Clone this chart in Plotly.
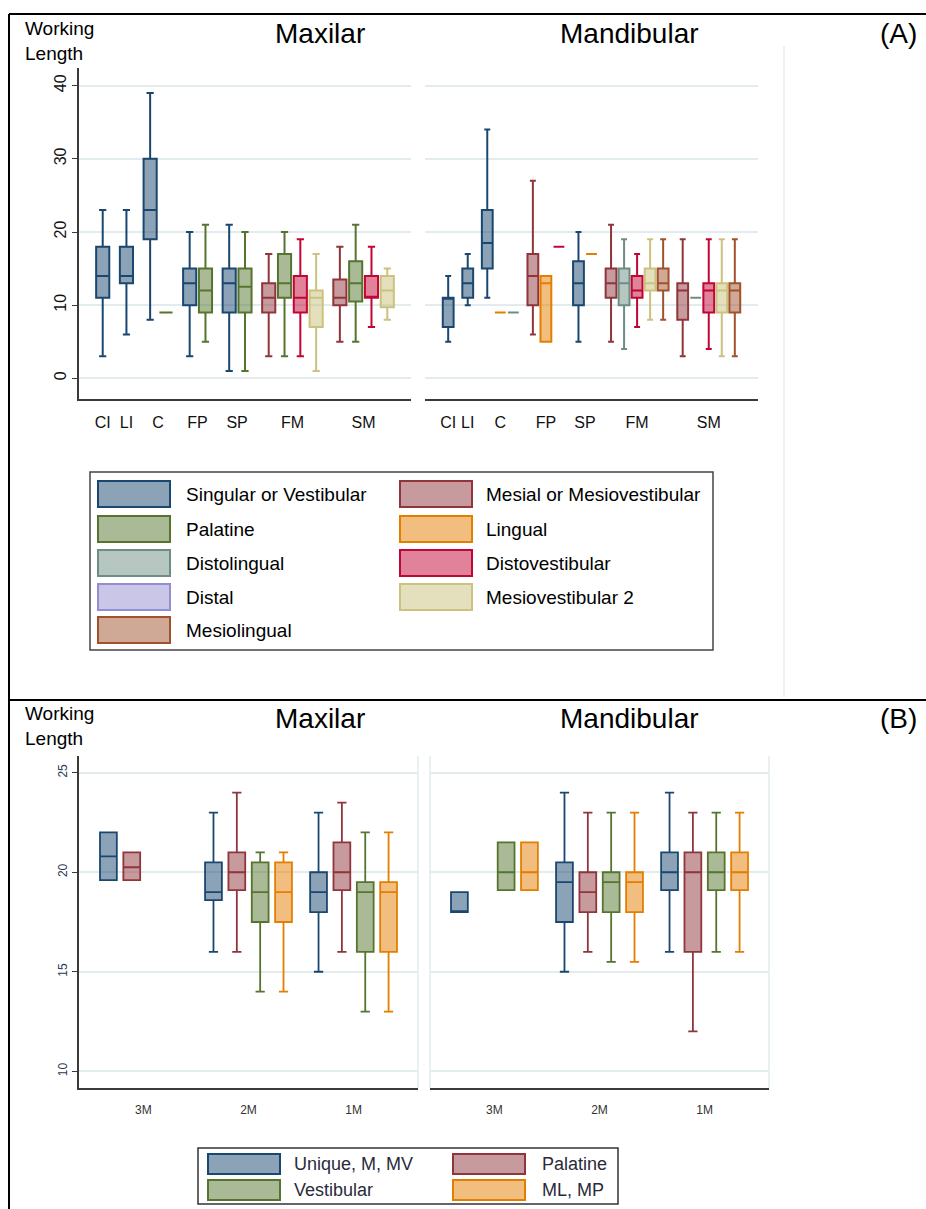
import plotly.graph_objects as go

W, H = 926, 1209
FONT = "Liberation Sans, Arial, sans-serif"

# ---------------- Panel A data (low, q1, median, q3, high) ----------------
A_GROUPS = ["CI", "LI", "C", "FP", "SP", "FM", "SM"]
A_SERIES = ["Singular or Vestibular", "Mesial or Mesiovestibular", "Palatine", "Lingual",
            "Distolingual", "Distovestibular", "Distal", "Mesiovestibular 2", "Mesiolingual"]
A_COLORS = [(26, 71, 111), (144, 53, 59), (85, 117, 47), (227, 126, 0), (110, 142, 132),
            (193, 5, 52), (147, 141, 210), (202, 194, 126), (160, 82, 45)]

# Maxilar
MAX_SINGULAR = [[3, 11, 14, 18, 23], [6, 13, 14, 18, 23], [8, 19, 23, 30, 39], [3, 10, 13, 15, 20], [1, 9, 13, 15, 21], None, None]
MAX_MESIAL = [None, None, None, None, None, [3, 9, 11, 13, 17], [5, 10, 11, 13.5, 18]]
MAX_PALATINE = [None, None, [9, 9, 9, 9, 9], [5, 9, 12, 15, 21], [1, 9, 12.5, 15, 20], [3, 11, 13, 17, 20], [5, 10.5, 13, 16, 21]]
MAX_LINGUAL = [None] * 7
MAX_DISTOLINGUAL = [None] * 7
MAX_DISTOVEST = [None, None, None, None, None, [3, 9, 11, 14, 19], [7, 11, 11, 14, 18]]
MAX_DISTAL = [None] * 7
MAX_MV2 = [None, None, None, None, None, [1, 7, 11, 12, 17], [8, 9.7, 12, 14, 15]]
MAX_MESIOLINGUAL = [None] * 7

# Mandibular
MAN_SINGULAR = [[5, 7, 11, 11, 14], [10, 11, 13, 15, 17], [11, 15, 18.5, 23, 34], None, [5, 10, 13, 16, 20], None, None]
MAN_MESIAL = [None, None, None, [6, 10, 14, 17, 27], None, [5, 11, 13, 15, 21], [3, 8, 12, 13, 19]]
MAN_PALATINE = [None] * 7
MAN_LINGUAL = [None, None, [9, 9, 9, 9, 9], [5, 5, 13, 14, 14], [17, 17, 17, 17, 17], None, None]
MAN_DISTOLINGUAL = [None, None, [9, 9, 9, 9, 9], None, None, [4, 10, 13, 15, 19], [11, 11, 11, 11, 11]]
MAN_DISTOVEST = [None, None, None, [18, 18, 18, 18, 18], None, [7, 11, 12, 14, 17], [4, 9, 12, 13, 19]]
MAN_DISTAL = [None] * 7
MAN_MV2 = [None, None, None, None, None, [8, 12, 13, 15, 19], [3, 9, 12, 13, 19]]
MAN_MESIOLINGUAL = [None, None, None, None, None, [8, 12, 13, 15, 19], [3, 9, 12, 13, 19]]

A_MAX = [MAX_SINGULAR, MAX_MESIAL, MAX_PALATINE, MAX_LINGUAL, MAX_DISTOLINGUAL,
         MAX_DISTOVEST, MAX_DISTAL, MAX_MV2, MAX_MESIOLINGUAL]
A_MAN = [MAN_SINGULAR, MAN_MESIAL, MAN_PALATINE, MAN_LINGUAL, MAN_DISTOLINGUAL,
         MAN_DISTOVEST, MAN_DISTAL, MAN_MV2, MAN_MESIOLINGUAL]
A_YTICKS = [0, 10, 20, 30, 40]

# ---------------- Panel B data ----------------
B_GROUPS = ["3M", "2M", "1M"]
B_SERIES = ["Unique, M, MV", "Palatine", "Vestibular", "ML, MP"]
B_COLORS = [(26, 71, 111), (144, 53, 59), (85, 117, 47), (227, 126, 0)]

BMAX_UNIQUE = [[19.6, 19.6, 20.8, 22, 22], [16, 18.6, 19, 20.5, 23], [15, 18, 19, 20, 23]]
BMAX_PALATINE = [[19.6, 19.6, 20.25, 21, 21], [16, 19.1, 20, 21, 24], [16, 19.1, 20, 21.5, 23.5]]
BMAX_VESTIBULAR = [None, [14, 17.5, 19, 20.5, 21], [13, 16, 19, 19.5, 22]]
BMAX_MLMP = [None, [14, 17.5, 19, 20.5, 21], [13, 16, 19, 19.5, 22]]

BMAN_UNIQUE = [[18, 18, 18, 19, 19], [15, 17.5, 19.5, 20.5, 24], [16, 19.1, 20, 21, 24]]
BMAN_PALATINE = [None, [16, 18, 19, 20, 23], [12, 16, 20, 21, 23]]
BMAN_VESTIBULAR = [[19.1, 19.1, 20, 21.5, 21.5], [15.5, 18, 19.5, 20, 23], [16, 19.1, 20, 21, 23]]
BMAN_MLMP = [[19.1, 19.1, 20, 21.5, 21.5], [15.5, 18, 19.5, 20, 23], [16, 19.1, 20, 21, 23]]

B_MAX = [BMAX_UNIQUE, BMAX_PALATINE, BMAX_VESTIBULAR, BMAX_MLMP]
B_MAN = [BMAN_UNIQUE, BMAN_PALATINE, BMAN_VESTIBULAR, BMAN_MLMP]
B_YTICKS = [10, 15, 20, 25]


def rgb(c):
    return "rgb(%d,%d,%d)" % c


def rgba(c, a):
    return "rgba(%d,%d,%d,%s)" % (c[0], c[1], c[2], a)


def fx(p):
    return p / W


def fy(p):
    return 1 - p / H


fig = go.Figure()


def add_boxes(table, colors, names, posfunc, xa, ya, width, lw):
    for si, series in enumerate(table):
        xs, lo, q1, md, q3, hi = [], [], [], [], [], []
        for gi, v in enumerate(series):
            if v is None:
                continue
            xs.append(posfunc(si, gi))
            lo.append(v[0]); q1.append(v[1]); md.append(v[2]); q3.append(v[3]); hi.append(v[4])
        if not xs:
            continue
        fig.add_trace(go.Box(
            x=xs, lowerfence=lo, q1=q1, median=md, q3=q3, upperfence=hi,
            orientation="v", name=names[si], xaxis=xa, yaxis=ya,
            width=width, whiskerwidth=0.55, boxpoints=False,
            fillcolor=rgba(colors[si], 0.5), line=dict(color=rgb(colors[si]), width=lw),
            showlegend=False))


def a_positions(table, gap=1.5):
    # boxes of one tooth group sit side by side; groups are separated by a wider gap
    pos, centers, cur, end = {}, [], 0.0, 0.0
    for g in range(len(A_GROUPS)):
        members = [s for s in range(len(table)) if table[s][g] is not None]
        for k, s in enumerate(members):
            pos[(s, g)] = cur + k
        end = cur + len(members) - 1
        centers.append((cur + end) / 2)
        cur = end + gap
    return pos, centers, end


pos_max, cen_max, last_max = a_positions(A_MAX)
pos_man, cen_man, last_man = a_positions(A_MAN)

add_boxes(A_MAX, A_COLORS, A_SERIES, lambda s, g: pos_max[(s, g)], "x", "y", 0.83, 2)
add_boxes(A_MAN, A_COLORS, A_SERIES, lambda s, g: pos_man[(s, g)], "x2", "y2", 0.83, 2)

B_STEP = 4.5
add_boxes(B_MAX, B_COLORS, B_SERIES, lambda s, g: g * B_STEP + s, "x3", "y3", 0.72, 1.8)
add_boxes(B_MAN, B_COLORS, B_SERIES, lambda s, g: g * B_STEP + s, "x4", "y4", 0.72, 1.8)
b_centers = [g * B_STEP + 1.5 for g in range(len(B_GROUPS))]

GRID = "#e2ebee"
AXC = "#3a3a3a"

common_y = dict(showgrid=True, gridcolor=GRID, gridwidth=1.5, zeroline=False)
layout = dict(
    width=W, height=H, margin=dict(l=0, r=0, t=0, b=0),
    paper_bgcolor="white", plot_bgcolor="white", boxmode="overlay",
    font=dict(family=FONT, color="black"),
    xaxis=dict(domain=[fx(79), fx(411)], range=[-1.5, last_max + 1.5], anchor="y",
               tickvals=cen_max, ticktext=A_GROUPS, ticks="outside", ticklen=8,
               tickcolor="rgba(0,0,0,0)", showline=True, linecolor=AXC, linewidth=1.5,
               showgrid=False, zeroline=False, tickfont=dict(size=16, color="#111")),
    yaxis=dict(domain=[fy(399), fy(68)], range=[-2.83, 42.42], anchor="x",
               tickvals=A_YTICKS, tickangle=-90, ticks="outside", ticklen=5, tickcolor=AXC,
               showline=True, linecolor=AXC, linewidth=1.5, tickfont=dict(size=16, color="#111"),
               **common_y),
    xaxis2=dict(domain=[fx(425), fx(758)], range=[-1.78, last_man + 1.78], anchor="y2",
                tickvals=cen_man, ticktext=A_GROUPS, ticks="outside", ticklen=8,
                tickcolor="rgba(0,0,0,0)", showline=True, linecolor=AXC, linewidth=1.5,
                showgrid=False, zeroline=False, tickfont=dict(size=16, color="#111")),
    yaxis2=dict(domain=[fy(399), fy(68)], range=[-2.83, 42.42], anchor="x2",
                tickvals=A_YTICKS, showticklabels=False, ticks="", showline=False, **common_y),
    xaxis3=dict(domain=[fx(79), fx(418)], range=[-1.26, 2 * B_STEP + 3 + 1.26], anchor="y3",
                tickvals=b_centers, ticktext=B_GROUPS, ticks="outside", ticklen=10,
                tickcolor="rgba(0,0,0,0)", showline=True, linecolor=AXC, linewidth=1.5,
                showgrid=False, zeroline=False, tickfont=dict(size=12, color="#333")),
    yaxis3=dict(domain=[fy(1088), fy(756)], range=[9.16, 25.84], anchor="x3",
                tickvals=B_YTICKS, tickangle=-90, ticks="outside", ticklen=5, tickcolor=AXC,
                showline=True, linecolor=AXC, linewidth=1.5, tickfont=dict(size=12, color="#2b3a55"),
                **common_y),
    xaxis4=dict(domain=[fx(430), fx(769)], range=[-1.26, 2 * B_STEP + 3 + 1.26], anchor="y4",
                tickvals=b_centers, ticktext=B_GROUPS, ticks="outside", ticklen=10,
                tickcolor="rgba(0,0,0,0)", showline=True, linecolor=AXC, linewidth=1.5,
                showgrid=False, zeroline=False, tickfont=dict(size=12, color="#333")),
    yaxis4=dict(domain=[fy(1088), fy(756)], range=[9.16, 25.84], anchor="x4",
                tickvals=B_YTICKS, showticklabels=False, ticks="", showline=False, **common_y),
)
fig.update_layout(**layout)

shapes = []
annotations = []

# outer frame lines
for (x0, y0, x1, y1) in [(9, 14, 926, 14), (9, 14, 9, 1209), (9, 700, 926, 700)]:
    shapes.append(dict(type="line", xref="paper", yref="paper", x0=fx(x0), x1=fx(x1),
                       y0=fy(y0), y1=fy(y1), line=dict(color="black", width=2)))
# faint graph-region edge in panel A
shapes.append(dict(type="line", xref="paper", yref="paper", x0=fx(784), x1=fx(784),
                   y0=fy(46), y1=fy(697), line=dict(color="#e6eef0", width=1.5)))
# light plot-region edges in panel B
for xr, xv in [("x3 domain", 1), ("x4 domain", 0), ("x4 domain", 1)]:
    yr = "y3 domain" if xr.startswith("x3") else "y4 domain"
    shapes.append(dict(type="line", xref=xr, yref=yr, x0=xv, x1=xv, y0=0, y1=1,
                       line=dict(color="#e2ebee", width=1.5)))

# titles
for ytop, ycen, tag in [(16, 33, "(A)"), (701, 718, "(B)")]:
    annotations.append(dict(text="Working<br>Length", x=fx(23), y=fy(ytop), xref="paper", yref="paper",
                            xanchor="left", yanchor="top", showarrow=False, align="left",
                            font=dict(size=19, family=FONT, color="black")))
    for txt, xc in [("Maxilar", 320), ("Mandibular", 629), (tag, 898)]:
        annotations.append(dict(text=txt, x=fx(xc), y=fy(ycen), xref="paper", yref="paper",
                                xanchor="center", yanchor="middle", showarrow=False,
                                font=dict(size=28, family=FONT, color="black")))

# legend A (manual, Stata-like)
shapes.append(dict(type="rect", xref="paper", yref="paper", x0=fx(90), x1=fx(713), y0=fy(472), y1=fy(650),
                   line=dict(color="#444", width=1.5), fillcolor="white"))
rows_y = [494, 529, 563, 597, 630]
for i, name in enumerate(A_SERIES):
    r, c = i // 2, i % 2
    sx = [98, 400][c]
    tx = [184, 484][c]
    yc = rows_y[r]
    shapes.append(dict(type="rect", xref="paper", yref="paper", x0=fx(sx), x1=fx(sx + 72),
                       y0=fy(yc + 13), y1=fy(yc - 13), fillcolor=rgba(A_COLORS[i], 0.5),
                       line=dict(color=rgb(A_COLORS[i]), width=2)))
    annotations.append(dict(text=name, x=fx(tx), y=fy(yc), xref="paper", yref="paper",
                            xanchor="left", yanchor="middle", showarrow=False,
                            font=dict(size=19, family=FONT, color="black")))

# legend B
shapes.append(dict(type="rect", xref="paper", yref="paper", x0=fx(198), x1=fx(618), y0=fy(1148), y1=fy(1204),
                   line=dict(color="#333", width=1.5), fillcolor="white"))
rows_yb = [1164, 1190]
for i, name in enumerate(B_SERIES):
    r, c = i // 2, i % 2
    sx = [208, 453][c]
    tx = [292, 540][c]
    yc = rows_yb[r]
    shapes.append(dict(type="rect", xref="paper", yref="paper", x0=fx(sx), x1=fx(sx + 72),
                       y0=fy(yc + 10), y1=fy(yc - 10), fillcolor=rgba(B_COLORS[i], 0.5),
                       line=dict(color=rgb(B_COLORS[i]), width=2)))
    annotations.append(dict(text=name, x=fx(tx), y=fy(yc), xref="paper", yref="paper",
                            xanchor="left", yanchor="middle", showarrow=False,
                            font=dict(size=18, family=FONT, color="#2a2a3a")))

fig.update_layout(shapes=shapes, annotations=annotations)
fig.write_html("out.html", config={"displayModeBar": False},
               post_script="document.body.style.margin='0';document.body.style.padding='0';")
